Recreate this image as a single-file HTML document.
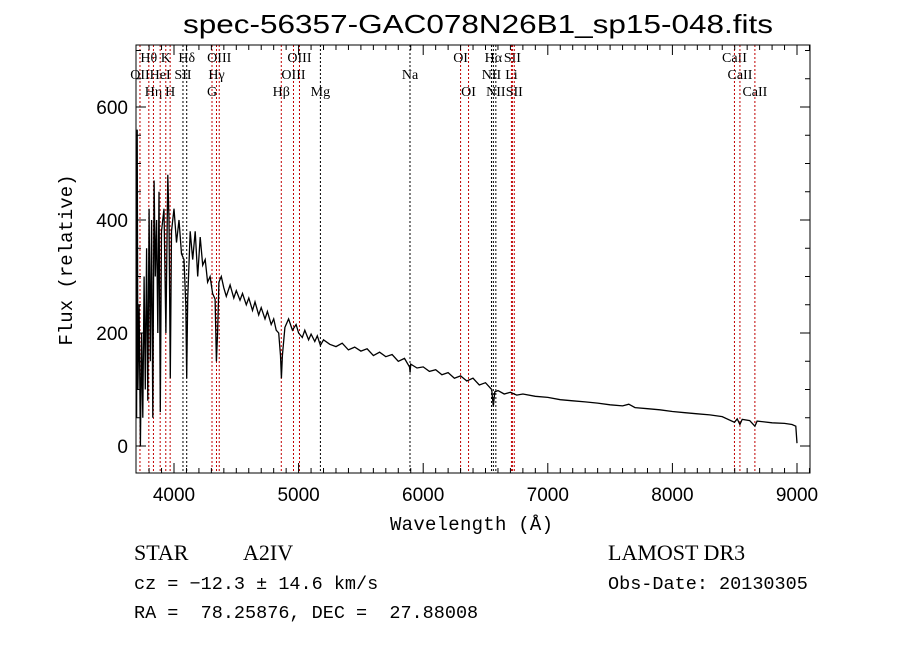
<!DOCTYPE html>
<html><head><meta charset="utf-8"><style>
body{margin:0;background:#fff;}
svg{display:block;font-family:"Liberation Sans",sans-serif;}
text{white-space:pre;}
</style></head><body>
<svg id="c" width="900" height="649" xmlns="http://www.w3.org/2000/svg" xml:space="preserve">
<rect width="900" height="649" fill="#fff"/>
<text x="183" y="33" font-size="26" textLength="590" lengthAdjust="spacingAndGlyphs">spec-56357-GAC078N26B1_sp15-048.fits</text>
<text x="390" y="530" font-size="19" textLength="163" font-family="Liberation Mono, monospace">Wavelength (Å)</text>
<text transform="translate(72,260) rotate(-90)" text-anchor="middle" font-size="19" font-family="Liberation Mono, monospace">Flux (relative)</text>
<text x="134" y="560" font-size="22" font-family="Liberation Serif, serif">STAR</text>
<text x="243" y="560" font-size="22" font-family="Liberation Serif, serif">A2IV</text>
<text x="134" y="589" font-size="18.5" font-family="Liberation Mono, monospace">cz = −12.3 ± 14.6 km/s</text>
<text x="134" y="618" font-size="18.5" font-family="Liberation Mono, monospace">RA =  78.25876, DEC =  27.88008</text>
<text x="608" y="560" font-size="22" font-family="Liberation Serif, serif">LAMOST DR3</text>
<text x="608" y="589" font-size="18.5" font-family="Liberation Mono, monospace">Obs-Date: 20130305</text>
<g id="plot"></g>
</svg>
<script>
const wave=[3700,3705,3710,3720,3730,3740,3750,3760,3770,3780,3790,3800,3810,3820,3830,3840,3850,3860,3870,3880,3890,3900,3920,3935,3950,3960,3970,3980,4000,4020,4040,4060,4080,4095,4102,4110,4130,4150,4170,4190,4210,4230,4250,4270,4290,4310,4330,4340,4350,4360,4380,4400,4420,4450,4480,4500,4530,4550,4580,4600,4630,4650,4680,4700,4730,4750,4780,4800,4820,4840,4855,4862,4870,4890,4920,4950,4980,5000,5030,5050,5080,5100,5130,5150,5175,5200,5250,5300,5350,5400,5450,5500,5550,5600,5650,5700,5750,5800,5850,5890,5895,5900,5950,6000,6050,6100,6150,6200,6250,6300,6350,6400,6450,6500,6550,6563,6575,6600,6650,6700,6750,6800,6900,7000,7100,7200,7300,7400,7500,7600,7650,7700,7800,7900,8000,8100,8200,8300,8400,8498,8520,8542,8560,8620,8662,8680,8800,8900,8960,8990,9000];
const flux=[50,560,100,250,0,200,50,300,100,350,80,420,150,400,50,470,300,400,200,450,60,380,420,200,480,400,120,380,420,360,400,340,330,250,120,260,380,330,380,300,370,320,330,290,300,270,260,150,200,290,300,280,265,285,262,275,258,270,250,262,240,255,232,245,225,238,215,225,205,200,160,120,160,210,225,205,215,200,192,205,188,198,185,195,178,188,180,176,182,170,175,168,172,160,166,158,162,150,155,140,130,145,138,140,132,135,126,130,120,124,115,120,108,112,100,70,96,98,92,95,90,92,88,86,82,80,78,76,73,71,74,68,66,64,61,59,57,55,52,42,48,38,47,45,35,44,41,40,38,35,5];
const lineWaves=[3727,3798,3835,3889,3934,3969,4072,4102,4305,4341,4363,4861,4959,5007,5175,5894,6300,6364,6548,6563,6583,6708,6716,6731,8498,8542,8662];
const lineNames=["OII","Hθ","Hη","HeI","K","H","SII","Hδ","G","Hγ","OIII","Hβ","OIII","OIII","Mg","Na","OI","OI","NII","Hα","NII","Li","SII","SII","CaII","CaII","CaII"];
const lineRows=[1,0,2,1,0,2,1,0,2,1,0,2,1,0,2,1,0,2,1,0,2,1,0,2,0,1,2];
const lineRed=[1,1,1,1,1,1,0,0,1,1,1,1,1,1,0,0,1,1,0,0,0,1,1,1,1,1,1];
const xTicks=[4000,5000,6000,7000,8000,9000];
const yTicks=[0,200,400,600];
const L=136,R=810,T=45,B=473;
const X=w=>174+(w-4000)*0.1246;
const Y=f=>446-f*0.565;
const NS="http://www.w3.org/2000/svg";
const g=document.getElementById('plot');
function mk(t,a){const e=document.createElementNS(NS,t);for(const k in a)e.setAttribute(k,a[k]);g.appendChild(e);return e;}
lineWaves.forEach((w,i)=>{
 const x=X(w);
 const l=mk('line',{x1:x,x2:x,y1:T,y2:B,stroke:lineRed[i]?'#c00000':'#000','stroke-width':1,'stroke-dasharray':'2,2'});
 
 
 const t=mk('text',{x:x,y:62+lineRows[i]*17,'text-anchor':'middle','font-size':14,'font-family':'Liberation Serif, serif'});
 t.textContent=lineNames[i];
 
 
});
let d='';wave.forEach((w,i)=>{d+=(i?'L':'M')+X(w).toFixed(1)+','+Y(flux[i]).toFixed(1);});
const p=mk('path',{d:d,fill:'none',stroke:'#000','stroke-width':1.3});


const fr=mk('rect',{x:L,y:T,width:R-L,height:B-T,fill:'none',stroke:'#000','stroke-width':1});


for(let w=3800;w<=9100;w+=100){const x=X(w);const big=w%1000===0;const len=big?10:5;
 mk('line',{x1:x,x2:x,y1:B,y2:B-len,stroke:'#000'});mk('line',{x1:x,x2:x,y1:T,y2:T+len,stroke:'#000'});}
for(let f=-0;f<=700;f+=50){const y=Y(f);const len=f%200===0?10:5;
 mk('line',{x1:L,x2:L+len,y1:y,y2:y,stroke:'#000'});mk('line',{x1:R,x2:R-len,y1:y,y2:y,stroke:'#000'});}
xTicks.forEach(w=>{const t=mk('text',{x:X(w),y:501,'text-anchor':'middle','font-size':19});t.textContent=w;
 
 });
yTicks.forEach(f=>{const t=mk('text',{x:128,y:Y(f)+7,'text-anchor':'end','font-size':19});t.textContent=f;
 
 });
</script>
</body></html>
